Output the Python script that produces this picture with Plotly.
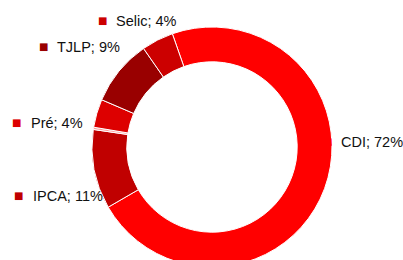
import plotly.graph_objects as go

# Data
labels = ["CDI", "IPCA", "Outros", "Pré", "TJLP", "Selic"]
values = [72.0, 10.7, 0.3, 3.8, 8.9, 4.3]
shown_pct = {"CDI": "72%", "IPCA": "11%", "Pré": "4%", "TJLP": "9%", "Selic": "4%"}
colors = ["#FF0000", "#C00000", "#FF9999", "#DD0000", "#990000", "#CC0000"]

W, H = 403, 270

fig = go.Figure()
fig.add_trace(go.Pie(
    labels=labels, values=values, sort=False,
    direction="clockwise", rotation=-19.3,
    hole=0.71,
    marker=dict(colors=colors, line=dict(color="white", width=1)),
    textinfo="none", hoverinfo="label+percent",
    domain=dict(x=[92 / W, 332 / W], y=[1 - 267 / H, 1 - 27 / H]),
    showlegend=False,
))

# label layout: (square center x, text left x, center y)
label_pos = {
    "Selic": (102, 114, 21),
    "TJLP": (43, 55, 46),
    "Pré": (16, 29, 122),
    "IPCA": (18, 31, 195),
    "CDI": (327, 339, 141),
}
key_colors = dict(zip(labels, colors))

for name, (sx, tx, cy) in label_pos.items():
    fig.add_annotation(
        x=sx / W, y=1 - cy / H, xref="paper", yref="paper",
        xanchor="center", yanchor="middle", showarrow=False,
        text="■", font=dict(size=10, color=key_colors[name], family="DejaVu Sans"),
    )
    fig.add_annotation(
        x=tx / W, y=1 - (cy + 0.5) / H, xref="paper", yref="paper",
        xanchor="left", yanchor="middle", showarrow=False,
        text=f"{name}; {shown_pct[name]}",
        font=dict(size=14.5, color="#111111", family="Liberation Sans, Arial, sans-serif"),
    )

fig.update_layout(
    width=W, height=H,
    margin=dict(l=0, r=0, t=0, b=0),
    paper_bgcolor="white", plot_bgcolor="white",
)

fig.write_html(
    "out.html",
    config={"displayModeBar": False},
    post_script="document.body.style.margin='0';document.body.style.overflow='hidden';document.documentElement.style.overflow='hidden';",
)
